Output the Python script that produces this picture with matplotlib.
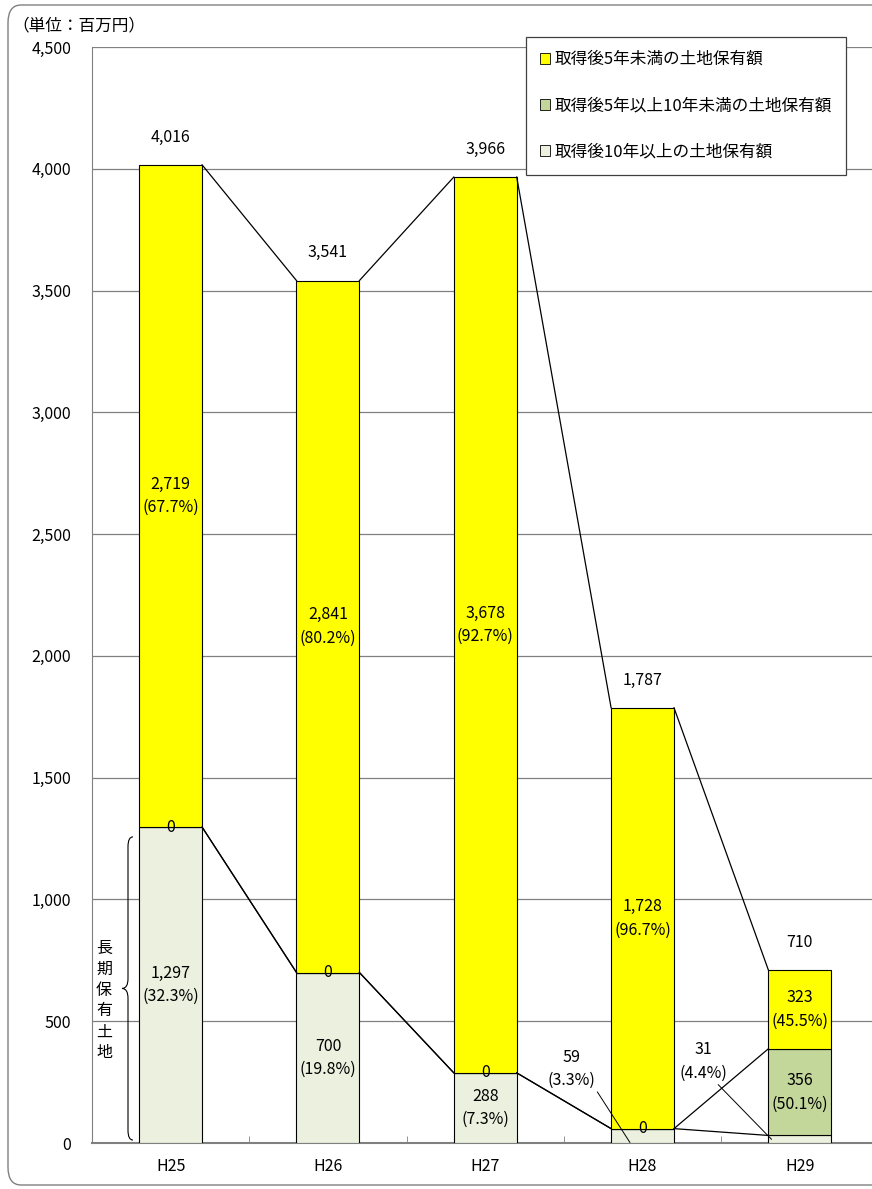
import matplotlib
matplotlib.use("Agg")
import matplotlib.pyplot as plt
import numpy as np
from matplotlib.patches import Patch, FancyBboxPatch, PathPatch
from matplotlib.path import Path

plt.rcParams['font.family'] = ['Noto Sans CJK JP', 'DejaVu Sans']

categories = ['H25', 'H26', 'H27', 'H28', 'H29']
under5 = [2719, 2841, 3678, 1728, 323]
from5to10 = [0, 0, 0, 0, 356]
over10 = [1297, 700, 288, 59, 31]
pct_under5 = ['67.7%', '80.2%', '92.7%', '96.7%', '45.5%']
pct_5to10 = ['', '', '', '', '50.1%']
pct_over10 = ['32.3%', '19.8%', '7.3%', '3.3%', '4.4%']
series_names = ['取得後5年未満の土地保有額', '取得後5年以上10年未満の土地保有額', '取得後10年以上の土地保有額']
yticks = [0, 500, 1000, 1500, 2000, 2500, 3000, 3500, 4000, 4500]

c_yel = '#FFFF00'
c_grn = '#C4D79B'
c_lt = '#EBF1DE'

W, H = 872, 1189
fig = plt.figure(figsize=(W / 100, H / 100), dpi=100)

# figure border
border = FancyBboxPatch((8 / W, 4 / H), 900 / W, 1180 / H, boxstyle="round,pad=0,rounding_size=0.015",
                        transform=fig.transFigure, fill=False, edgecolor='#808080', lw=1.0)
fig.patches.append(border)

ax_l, ax_r, ax_t, ax_b = 92, 878.5, 47, 1143
ax = fig.add_axes([ax_l / W, 1 - ax_b / H, (ax_r - ax_l) / W, (ax_b - ax_t) / H])

x = np.arange(len(categories))
u = np.array(under5)
g = np.array(from5to10)
o = np.array(over10)
bw = 0.4

tfs = 11.5
ax.set_ylim(0, 4500)
ax.set_xlim(-0.5, 4.5)
ax.set_yticks(yticks)
ax.set_yticklabels([f'{v:,}' for v in yticks], fontsize=tfs)
ax.yaxis.grid(True, color='#808080', lw=0.9)
ax.set_axisbelow(True)
ax.tick_params(axis='y', length=0, pad=15)
ax.set_xticks(x)
ax.set_xticklabels(categories, fontsize=tfs)
ax.tick_params(axis='x', length=0, pad=11)
ax.set_xticks(np.arange(-0.5, 5.0, 1.0), minor=True)
ax.tick_params(axis='x', which='minor', direction='in', length=5, color='#808080')
for s in ['top', 'right']:
    ax.spines[s].set_visible(False)
ax.spines['left'].set_color('#808080')
ax.spines['bottom'].set_color('#808080')
ax.spines['bottom'].set_linewidth(1.5)

b1 = ax.bar(x, o, bw, color=c_lt, edgecolor='black', lw=0.8, label=series_names[2], zorder=3)
b2 = ax.bar(x, g, bw, bottom=o, color=c_grn, edgecolor='black', lw=0.8, label=series_names[1], zorder=3)
b3 = ax.bar(x, u, bw, bottom=o + g, color=c_yel, edgecolor='black', lw=0.8, label=series_names[0], zorder=3)

# series lines
levels = [o, o + g, o + g + u]
for lv in levels:
    for i in range(len(x) - 1):
        ax.plot([x[i] + bw / 2, x[i + 1] - bw / 2], [lv[i], lv[i + 1]], color='black', lw=0.9, zorder=4)

fs = 11.5
ls = 1.5
tot = o + g + u
for i in range(len(x)):
    ax.annotate(f'{tot[i]:,}', (x[i], tot[i]), xytext=(0, 20), textcoords='offset points',
                ha='center', va='center', fontsize=fs, zorder=6)
    # yellow
    ax.text(x[i], o[i] + g[i] + u[i] / 2, f'{u[i]:,}\n({pct_under5[i]})', ha='center', va='center',
            fontsize=fs, linespacing=ls, zorder=6)
    # green
    if g[i] == 0:
        ax.text(x[i], o[i], '0', ha='center', va='center', fontsize=fs, zorder=6)
    else:
        ax.text(x[i], o[i] + g[i] / 2, f'{g[i]:,}\n({pct_5to10[i]})', ha='center', va='center',
                fontsize=fs, linespacing=ls, zorder=6)
    # light
    if o[i] > 200:
        ax.text(x[i], o[i] / 2, f'{o[i]:,}\n({pct_over10[i]})', ha='center', va='center',
                fontsize=fs, linespacing=ls, zorder=6)

# outside labels with leader lines
ax.annotate(f'{o[3]:,}\n({pct_over10[3]})', xy=(3 - 0.08, 2), xytext=(-42, 53), textcoords='offset points',
            ha='center', va='center', fontsize=fs, linespacing=ls, zorder=6,
            arrowprops=dict(arrowstyle='-', color='black', lw=0.7, shrinkA=0, shrinkB=0, relpos=(1.0, 0.0)))
ax.annotate(f'{o[4]:,}\n({pct_over10[4]})', xy=(4 - bw / 2 + 0.02, 15), xytext=(-49, 56), textcoords='offset points',
            ha='center', va='center', fontsize=fs, linespacing=ls, zorder=6,
            arrowprops=dict(arrowstyle='-', color='black', lw=0.7, shrinkA=0, shrinkB=0, relpos=(0.75, 0.0)))

# brace for long-held land
def px2x(px):
    return (px - ax_l) / ((ax_r - ax_l) / 5) - 0.5

xb = px2x(128)
xtip = px2x(122)
xend = px2x(133)
y0, y1 = 12, o[0] - 40
ym = (y0 + y1) / 2
d = 40
verts = [(xend, y1), (xb, y1), (xb, y1 - d),
         (xb, ym + d),
         (xb, ym), (xtip, ym),
         (xb, ym), (xb, ym - d),
         (xb, y0 + d),
         (xb, y0), (xend, y0)]
codes = [Path.MOVETO, Path.CURVE3, Path.CURVE3, Path.LINETO, Path.CURVE3, Path.CURVE3,
         Path.CURVE3, Path.CURVE3, Path.LINETO, Path.CURVE3, Path.CURVE3]
ax.add_patch(PathPatch(Path(verts, codes), fill=False, edgecolor='black', lw=0.8, zorder=5, clip_on=False))
ax.text(px2x(104), 585, '\n'.join('長期保有土地'), ha='center', va='center', fontsize=11.5,
        linespacing=1.3, zorder=6)

# unit label
fig.text(12 / W, 1 - 26 / H, '（単位：百万円）', ha='left', va='center', fontsize=12)

# legend
handles = [Patch(facecolor=c_yel, edgecolor='black', lw=0.6, label=series_names[0]),
           Patch(facecolor=c_grn, edgecolor='black', lw=0.6, label=series_names[1]),
           Patch(facecolor=c_lt, edgecolor='black', lw=0.6, label=series_names[2])]
leg = fig.legend(handles=handles, loc='upper left', bbox_to_anchor=(526 / W, 1 - 37 / H),
                 fontsize=12, handlelength=0.6, handleheight=0.6, handletextpad=0.25,
                 labelspacing=1.75, borderpad=0.85, borderaxespad=0, fancybox=False,
                 framealpha=1, edgecolor='#404040')
leg.get_frame().set_linewidth(0.9)

fig.savefig('out.png', dpi=100)
